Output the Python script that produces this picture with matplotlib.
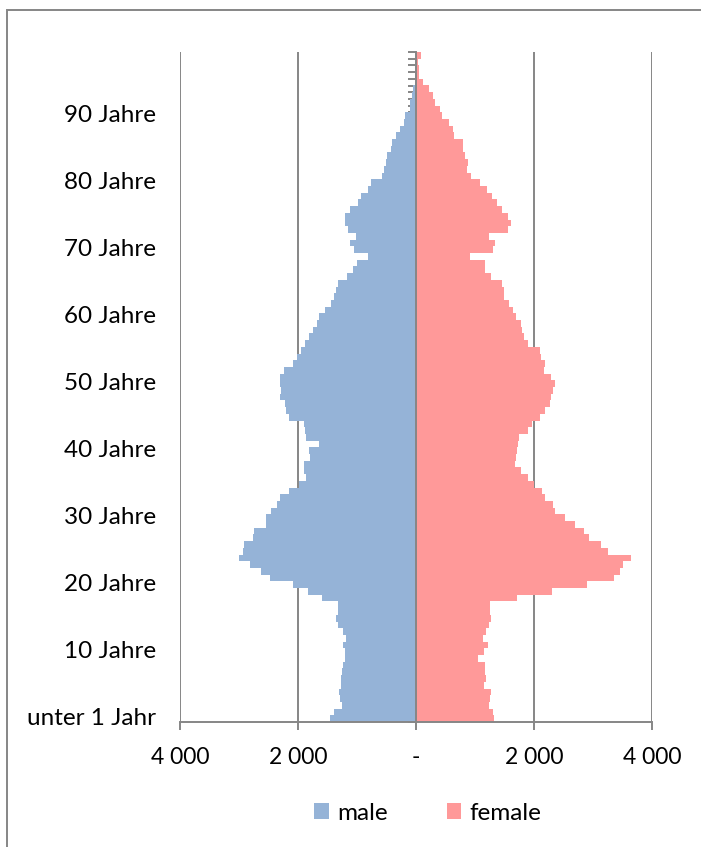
import numpy as np
import matplotlib.pyplot as plt
from matplotlib.patches import Rectangle

# population by single year of age, index 0 = "unter 1 Jahr"
male = [
    1452, 1396, 1250, 1288, 1300, 1274, 1266, 1254, 1237, 1209,
    1195, 1237, 1190, 1232, 1316, 1356, 1330, 1330, 1590, 1836,
    2093, 2469, 2622, 2819, 3006, 2932, 2921, 2763, 2740, 2537,
    2537, 2452, 2360, 2300, 2158, 1989, 1859, 1893, 1904, 1791,
    1808, 1650, 1859, 1876, 1904, 2158, 2198, 2226, 2300, 2288,
    2300, 2300, 2232, 2085, 2017, 1944, 1876, 1819, 1752, 1678,
    1650, 1537, 1435, 1396, 1350, 1322, 1175, 1073, 1000, 814,
    1045, 1124, 1017, 1158, 1209, 1209, 1113, 986, 927, 814,
    757, 570, 540, 508, 491, 424, 407, 333, 277, 209,
    181, 107, 96, 68, 56, 23, 10, 6, 5, 5,
]
female = [
    1316, 1305, 1238, 1255, 1274, 1147, 1181, 1175, 1164, 1045,
    1160, 1218, 1133, 1192, 1237, 1268, 1255, 1250, 1712, 2305,
    2898, 3350, 3458, 3515, 3644, 3249, 3138, 2940, 2842, 2701,
    2520, 2362, 2322, 2192, 2136, 1994, 1898, 1785, 1684, 1701,
    1712, 1723, 1746, 1898, 1966, 2096, 2192, 2266, 2288, 2322,
    2350, 2288, 2175, 2192, 2119, 2107, 1898, 1825, 1802, 1780,
    1695, 1644, 1576, 1486, 1486, 1458, 1277, 1175, 1175, 921,
    1305, 1333, 1232, 1559, 1616, 1554, 1463, 1373, 1295, 1203,
    1090, 938, 865, 876, 836, 794, 791, 644, 625, 554,
    441, 401, 325, 282, 226, 116, 56, 45, 30, 90,
]
age_labels = ['unter 1 Jahr', '10 Jahre', '20 Jahre', '30 Jahre', '40 Jahre',
              '50 Jahre', '60 Jahre', '70 Jahre', '80 Jahre', '90 Jahre']
label_ages = [0, 10, 20, 30, 40, 50, 60, 70, 80, 90]
x_ticks = [-4000, -2000, 0, 2000, 4000]
x_tick_labels = ['4 000', '2 000', '-', '2 000', '4 000']
series_names = ['male', 'female']

plt.rcParams['font.family'] = ['Lato', 'DejaVu Sans']
BLUE = '#95B3D7'
PINK = '#FF9999'
GRAY = '#868686'
FS = 17.5

W, H = 701, 847
fig = plt.figure(figsize=(W / 100, H / 100), dpi=100)
ax = fig.add_axes([180 / W, 1 - 722 / H, 472 / W, 670 / H])

ages = np.arange(len(male))
ax.barh(ages, -np.array(male), height=1.0, color=BLUE, label=series_names[0], zorder=2)
ax.barh(ages, female, height=1.0, color=PINK, label=series_names[1], zorder=2)

ax.set_xlim(x_ticks[0], x_ticks[-1])
ax.set_ylim(-0.5, len(male) - 0.5)

for x in x_ticks:
    if x != 0:
        ax.axvline(x, color=GRAY, lw=1.4, zorder=1)

for s in ['top', 'right']:
    ax.spines[s].set_visible(False)
ax.spines['left'].set_position(('data', 0))
ax.spines['left'].set_color(GRAY)
ax.spines['left'].set_linewidth(1.4)
ax.spines['left'].set_zorder(3)
ax.spines['bottom'].set_color(GRAY)
ax.spines['bottom'].set_linewidth(1.4)

ax.set_yticks(np.arange(-0.5, len(male), 1.0))
ax.tick_params(axis='y', direction='out', length=6, width=1.4, color=GRAY, labelleft=False)
ax.set_xticks(x_ticks)
ax.set_xticklabels(x_tick_labels)
ax.tick_params(axis='x', direction='out', length=6, width=1.4, color=GRAY, labelsize=16.5, pad=12)

for a, lab in zip(label_ages, age_labels):
    ax.text(-0.05, a, lab, transform=ax.get_yaxis_transform(), ha='right', va='center',
            fontsize=FS)

fig.legend(loc='center', bbox_to_anchor=(428 / W, 1 - 813 / H), ncol=2, frameon=False,
           fontsize=FS, handlelength=0.6, handleheight=0.6, handletextpad=0.35,
           columnspacing=2.4)

# chart area border (cut off at right and bottom)
fig.patches.append(Rectangle((7 / W, -0.1), 1.2, 1.1 - 10 / H, transform=fig.transFigure,
                             fill=False, edgecolor=GRAY, lw=1.4))

fig.savefig('out.png', dpi=100)
